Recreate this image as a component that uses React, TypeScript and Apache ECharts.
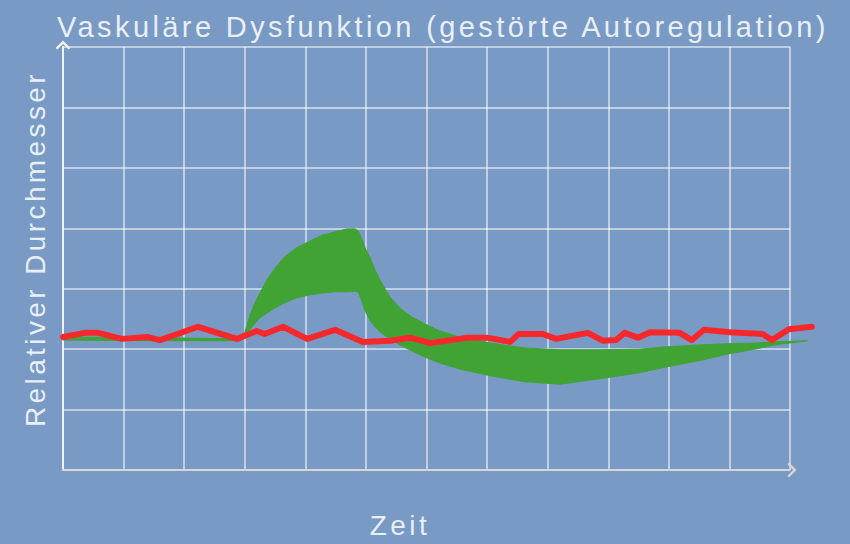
import React, { useEffect, useRef } from "react";
import * as echarts from "echarts";

const TITLE = "Vaskuläre Dysfunktion (gestörte Autoregulation)";
const Y_NAME = "Relativer Durchmesser";
const X_NAME = "Zeit";

// Green band (autoregulation response range): x, lower bound, upper bound
const bandX = [0, 1.44, 2.92, 3.0, 3.09, 3.17, 3.25, 3.37, 3.5, 3.66, 3.86, 4.08, 4.29, 4.49, 4.69, 4.82, 4.87, 4.92, 4.98, 5.07, 5.15, 5.25, 5.4, 5.56, 5.76, 5.97, 6.22, 6.55, 7.05, 7.62, 8.2, 8.86, 9.52, 9.98, 10.51, 10.97, 11.42, 11.75, 12.29];
const bandUpper = [2.2, 2.19, 2.17, 2.27, 2.57, 2.77, 2.93, 3.15, 3.34, 3.53, 3.68, 3.79, 3.89, 3.94, 3.99, 3.99, 3.96, 3.86, 3.69, 3.51, 3.31, 3.11, 2.86, 2.68, 2.53, 2.42, 2.3, 2.2, 2.1, 2.02, 1.99, 1.99, 2.0, 2.04, 2.07, 2.09, 2.1, 2.12, 2.14];
const bandLower = [2.15, 2.14, 2.14, 2.25, 2.33, 2.43, 2.52, 2.6, 2.68, 2.77, 2.85, 2.9, 2.93, 2.95, 2.95, 2.96, 2.95, 2.83, 2.65, 2.47, 2.37, 2.27, 2.17, 2.07, 1.97, 1.87, 1.77, 1.67, 1.56, 1.46, 1.42, 1.51, 1.61, 1.71, 1.81, 1.92, 2.0, 2.07, 2.14];

// Red line (measured diameter)
const redX = [0, 0.36, 0.58, 0.97, 1.4, 1.6, 2.23, 2.51, 2.87, 3.2, 3.33, 3.63, 4.03, 4.49, 4.95, 5.4, 5.73, 6.06, 6.67, 7.0, 7.38, 7.52, 7.92, 8.14, 8.66, 8.91, 9.13, 9.27, 9.49, 9.69, 10.18, 10.38, 10.58, 11.01, 11.55, 11.7, 11.98, 12.36];
const redY = [2.2, 2.27, 2.27, 2.17, 2.2, 2.15, 2.37, 2.28, 2.17, 2.3, 2.25, 2.37, 2.17, 2.32, 2.12, 2.14, 2.19, 2.1, 2.19, 2.19, 2.12, 2.25, 2.25, 2.17, 2.27, 2.14, 2.15, 2.27, 2.19, 2.28, 2.27, 2.15, 2.32, 2.28, 2.25, 2.15, 2.33, 2.37];

const X_MAX = 12;
const Y_MAX = 7;

const BG = "#789ac4";
const TEXT = "#e9eff7";
const GREEN = "#41a333";
const RED = "#f7282c";

const chevron = "path://M0,10 L10,0 L20,10 L17.5,12 L10,4.5 L2.5,12 Z";

export default function App() {
  const ref = useRef<HTMLDivElement>(null);
  useEffect(() => {
    document.body.style.margin = "0";
    const chart = echarts.init(ref.current!, null, { renderer: "svg" });
    const bandData = bandX.map((x, i) => [x, bandLower[i], bandUpper[i]]);
    const redData = redX.map((x, i) => [x, redY[i]]);
    const font = "'Liberation Sans', Arial, sans-serif";
    chart.setOption({
      animation: false,
      backgroundColor: BG,
      textStyle: { fontFamily: font },
      grid: { left: 63, right: 60, top: 47, bottom: 74, containLabel: false },
      xAxis: {
        type: "value",
        min: 0,
        max: X_MAX,
        interval: 1,
        axisLabel: { show: false },
        axisTick: { show: false },
        axisLine: {
          show: true,
          lineStyle: { color: "#d6d6d6", width: 2 },
          symbol: ["none", chevron],
          symbolSize: [15, 10],
          symbolOffset: [0, 2],
        },
        splitLine: { show: true, lineStyle: { color: "rgba(255,255,255,0.7)", width: 1.5 } },
      },
      yAxis: {
        type: "value",
        min: 0,
        max: Y_MAX,
        interval: 1,
        axisLabel: { show: false },
        axisTick: { show: false },
        axisLine: {
          show: true,
          onZero: false,
          lineStyle: { color: "#f2f2f2", width: 2 },
          symbol: ["none", chevron],
          symbolSize: [15, 10],
          symbolOffset: [0, 2],
        },
        splitLine: { show: true, lineStyle: { color: "rgba(255,255,255,0.7)", width: 1.5 } },
      },
      graphic: [
        {
          type: "text",
          left: 57,
          top: 12,
          style: { text: TITLE, fill: TEXT, font: `29px ${font}` },
        },
        {
          type: "text",
          x: 35,
          y: 249,
          rotation: Math.PI / 2,
          style: { text: Y_NAME, fill: TEXT, font: `28px ${font}`, align: "center", verticalAlign: "middle" },
        },
        {
          type: "text",
          x: 400,
          y: 525,
          style: { text: X_NAME, fill: TEXT, font: `28px ${font}`, align: "center", verticalAlign: "middle" },
        },
      ],
      series: [
        {
          type: "custom",
          name: "band",
          data: bandData,
          encode: { x: 0, y: [1, 2] },
          clip: false,
          silent: true,
          z: 2,
          renderItem: (params: any, api: any) => {
            if (params.dataIndex !== 0) return null;
            const top = bandData.map((d) => api.coord([d[0], d[2]]));
            const bottom = bandData.map((d) => api.coord([d[0], d[1]])).reverse();
            return {
              type: "polygon",
              shape: { points: top.concat(bottom) },
              style: { fill: GREEN, stroke: GREEN, lineWidth: 1, lineJoin: "round" },
            };
          },
        },
        {
          type: "custom",
          name: "diameter",
          data: redData,
          encode: { x: 0, y: 1 },
          clip: false,
          silent: true,
          z: 3,
          renderItem: (params: any, api: any) => {
            if (params.dataIndex !== 0) return null;
            const pts = redData.map((d) => api.coord(d));
            return {
              type: "polyline",
              shape: { points: pts },
              style: { fill: "none", stroke: RED, lineWidth: 6, lineJoin: "round", lineCap: "round" },
            };
          },
        },
      ],
    });
    return () => chart.dispose();
  }, []);
  return <div ref={ref} style={{ width: 850, height: 544, letterSpacing: "3.4px" }} />;
}
